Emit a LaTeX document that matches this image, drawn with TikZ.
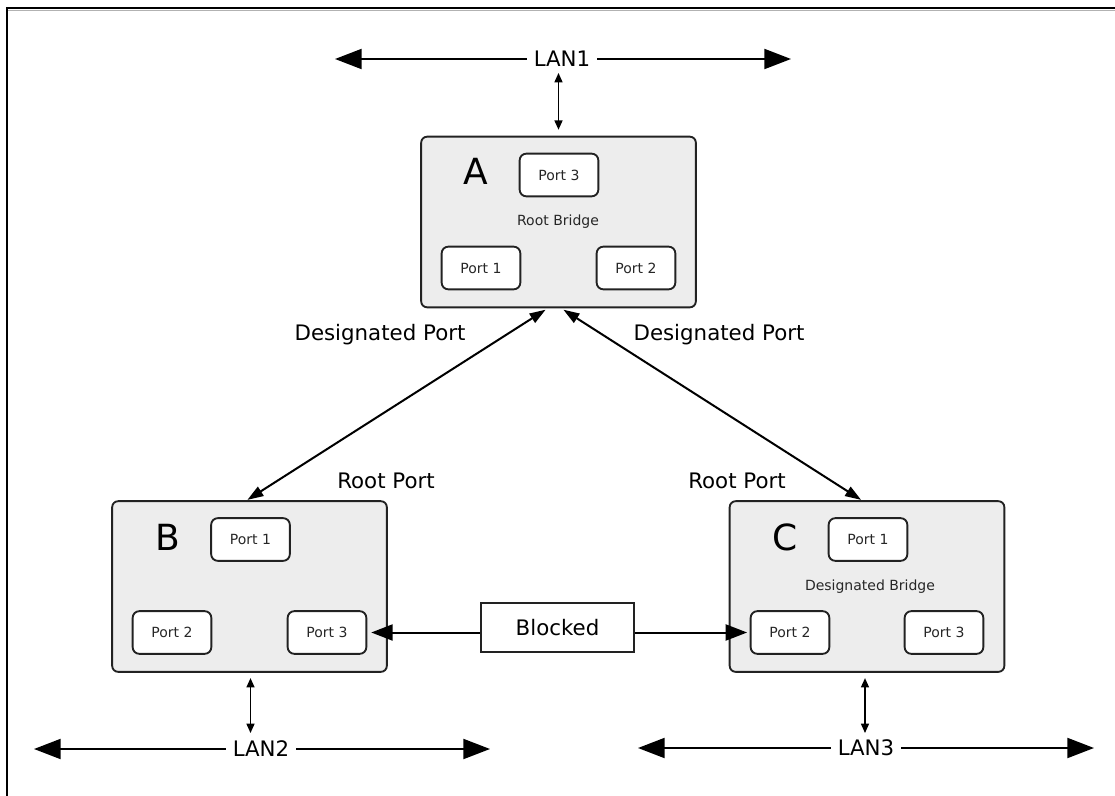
\documentclass[tikz,border=0pt]{standalone}
\usepackage{fontspec}
\setmainfont{DejaVu Sans}
\usetikzlibrary{arrows.meta,positioning}
\definecolor{boxgray}{HTML}{EDEDED}
\definecolor{edgegray}{HTML}{222222}
\begin{document}
\begin{tikzpicture}[x=0.75pt, y=-0.75pt,
  every node/.style={font=\fontsize{10.5}{12}\selectfont, text=black!85},
  bridge/.style={draw=edgegray, line width=1.4pt, fill=boxgray, rounded corners=4.5pt, minimum width=206pt, minimum height=128pt, inner sep=0pt},
  port/.style={draw=edgegray, line width=1.4pt, fill=white, rounded corners=5pt, minimum width=59pt, minimum height=32pt, inner sep=0pt},
  big/.style={font=\fontsize{16}{19}\selectfont, text=black},
  letter/.style={font=\fontsize{27}{32}\selectfont, text=black},
  lan/.style={big, fill=white, inner xsep=5pt, inner ysep=2pt},
  lanline/.style={-{Triangle[length=20pt,width=15pt]}, line width=1.5pt},
  tap/.style={{Triangle[length=7pt,width=6pt]}-{Triangle[length=7pt,width=6pt]}, line width=1.1pt},
  link/.style={{Triangle[length=12pt,width=8pt]}-{Triangle[length=12pt,width=8pt]}, line width=1.5pt},
  blk/.style={-{Triangle[length=16pt,width=12pt]}, line width=1.5pt}]
  \useasboundingbox (0,0) rectangle (1115,796);
  % frame, only top and left edge shown
  \draw[black!30, line width=0.8pt] (8,10.5) -- (1115,10.5);
  \draw[line width=1.7pt] (7,796) -- (7,8) -- (1115,8);
  % bridge A
  \node[bridge] (A) at (558.5,222) {};
  \node[letter] (Aname) at (476,171) {A};
  \node[port] (A3) at (559,175) {Port 3};
  \node (Arole) at (558,222) {Root Bridge};
  \node[port] (A1) at (481,268) {Port 1};
  \node[port] (A2) at (636,268) {Port 2};
  % bridge B
  \node[bridge] (B) at (249.5,586.5) {};
  \node[letter] (Bname) at (168,537) {B};
  \node[port] (B1) at (250.5,539.5) {Port 1};
  \node[port] (B2) at (172,632.5) {Port 2};
  \node[port] (B3) at (327,632.5) {Port 3};
  % bridge C
  \node[bridge] (C) at (867,586.5) {};
  \node[letter] (Cname) at (785,537) {C};
  \node[port] (C1) at (868,539.5) {Port 1};
  \node (Crole) at (870,587) {Designated Bridge};
  \node[port] (C2) at (790,632.5) {Port 2};
  \node[port] (C3) at (944,632.5) {Port 3};
  % port roles
  \node[big] (dpA1) at (380,335) {Designated Port};
  \node[big] (dpA2) at (719,335) {Designated Port};
  \node[big] (rpB) at (386,481) {Root Port};
  \node[big] (rpC) at (737,481) {Root Port};
  % links between bridges
  \draw[link, shorten <=2pt, shorten >=0.5pt] ([xshift=-8pt]A.south) -- ([xshift=-2pt]B.north);
  \draw[link, shorten <=2pt, shorten >=0.5pt] ([xshift=2pt]A.south) -- ([xshift=-4pt]C.north);
  % blocked path B-C
  \node[draw=edgegray, line width=1.3pt, fill=white, minimum width=115pt, minimum height=37pt, big] (blocked) at (557.5,627.5) {Blocked};
  \draw[blk, shorten >=3pt] (blocked.west |- B3) -- (B3.east);
  \draw[blk, shorten >=2pt] (blocked.east |- C2) -- (C2.west);
  % LAN1
  \node[lan] (lan1) at (562,59) {LAN1};
  \coordinate (lan1w) at (335,59);
  \coordinate (lan1e) at (791,59);
  \coordinate (lan1tap) at (558.5,73);
  \draw[lanline] (lan1.west) -- (lan1w);
  \draw[lanline] (lan1.east) -- (lan1e);
  \draw[tap, shorten >=4.5pt] (lan1tap) -- (A.north);
  % LAN2
  \node[lan] (lan2) at (261,749) {LAN2};
  \coordinate (lan2w) at (34,749);
  \coordinate (lan2e) at (490,749);
  \coordinate (lan2tap) at (250.5,733);
  \draw[lanline] (lan2.west) -- (lan2w);
  \draw[lanline] (lan2.east) -- (lan2e);
  \draw[tap, shorten >=4pt] (lan2tap) -- (lan2tap |- B.south);
  % LAN3
  \node[lan] (lan3) at (866,748) {LAN3};
  \coordinate (lan3w) at (638,748);
  \coordinate (lan3e) at (1094,748);
  \coordinate (lan3tap) at (865,733);
  \draw[lanline] (lan3.west) -- (lan3w);
  \draw[lanline] (lan3.east) -- (lan3e);
  \draw[tap, shorten >=4pt] (lan3tap) -- (lan3tap |- C.south);
\end{tikzpicture}
\end{document}
